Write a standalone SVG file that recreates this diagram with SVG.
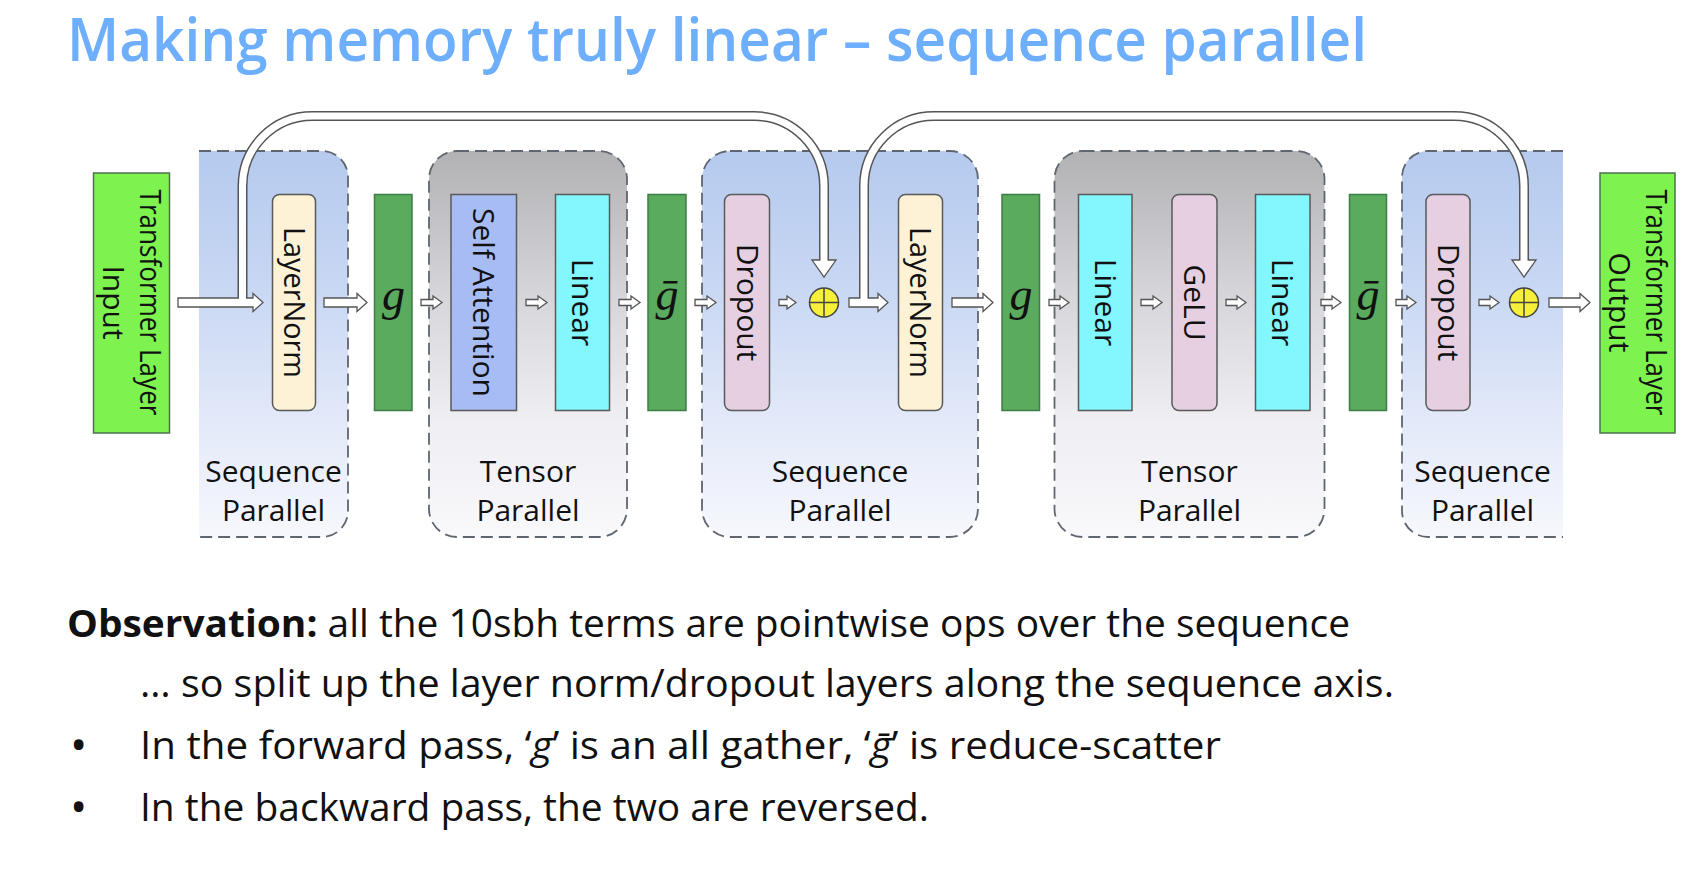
<svg xmlns="http://www.w3.org/2000/svg" width="1694" height="872" viewBox="0 0 1694 872">
<defs>
<linearGradient id="seqG" x1="0" y1="0" x2="0" y2="1">
<stop offset="0" stop-color="#b5caee"/>
<stop offset="0.35" stop-color="#c8d7f3"/>
<stop offset="0.7" stop-color="#e3e9f9"/>
<stop offset="1" stop-color="#f7f8fd"/>
</linearGradient>
<linearGradient id="tenG" x1="0" y1="0" x2="0" y2="1">
<stop offset="0" stop-color="#b2b2b5"/>
<stop offset="0.35" stop-color="#d3d3d8"/>
<stop offset="0.7" stop-color="#eeeef3"/>
<stop offset="1" stop-color="#f9f9fc"/>
</linearGradient>
</defs>
<style>
.bg{fill:#ffffff}
.dash{fill:none;stroke:#5f6670;stroke-width:1.8;stroke-dasharray:12 6}
.box{stroke:#5a5a5a;stroke-width:1.5}
.io{fill:#7ef24f;stroke:#4f6f4f;stroke-width:1.5}
.gb{fill:#5aab5e;stroke:#3f7d46;stroke-width:1.5}
.ln{fill:#fdf1d6}
.sa{fill:#a8bcf4}
.lin{fill:#82f7fd}
.dp{fill:#e6cfe0}
.vl{font-family:"Open Sans","Noto Sans",sans-serif;font-size:30px;fill:#111;text-anchor:middle}
.rl{font-family:"Open Sans","Noto Sans",sans-serif;font-size:30px;fill:#111;text-anchor:middle}
.gt{font-family:"Liberation Serif","DejaVu Serif",serif;font-style:italic;font-size:46px;fill:#111;text-anchor:middle}
.ha{fill:#ffffff;stroke:#555;stroke-width:1.3;stroke-linejoin:miter}
.sko{fill:none;stroke:#555;stroke-width:10}
.ski{fill:none;stroke:#ffffff;stroke-width:7}
.add{fill:#f7f03a;stroke:#444;stroke-width:1.5}
.addx{stroke:#444;stroke-width:1.5}
.title{font-family:"Open Sans","Noto Sans",sans-serif;font-weight:600;font-size:59px;fill:#6daefd}
.body{font-family:"Open Sans","Noto Sans",sans-serif;font-size:38px;fill:#111}
.bul{font-family:"Open Sans","Noto Sans",sans-serif;font-size:46px;fill:#111}
</style>
<rect class="bg" x="0" y="0" width="1694" height="872"/>

<text class="title" x="67" y="61" textLength="1300" lengthAdjust="spacingAndGlyphs">Making memory truly linear – sequence parallel</text>

<g id="region-seq1">
<path d="M199,151 H322 A26,26 0 0 1 348,177 V511 A26,26 0 0 1 322,537 H199 Z" fill="url(#seqG)"/>
<path class="dash" d="M199,151 H322 A26,26 0 0 1 348,177 V511 A26,26 0 0 1 322,537 H199"/>
<text class="rl" x="273.5" y="482">Sequence</text>
<text class="rl" x="273.5" y="521">Parallel</text>
</g>
<g id="region-tensor1">
<rect x="429" y="151" width="198" height="386" rx="28" fill="url(#tenG)"/>
<rect class="dash" x="429" y="151" width="198" height="386" rx="28"/>
<text class="rl" x="528" y="482">Tensor</text>
<text class="rl" x="528" y="521">Parallel</text>
</g>
<g id="region-seq2">
<rect x="702" y="151" width="276" height="386" rx="28" fill="url(#seqG)"/>
<rect class="dash" x="702" y="151" width="276" height="386" rx="28"/>
<text class="rl" x="840" y="482">Sequence</text>
<text class="rl" x="840" y="521">Parallel</text>
</g>
<g id="region-tensor2">
<rect x="1054.5" y="151" width="270" height="386" rx="28" fill="url(#tenG)"/>
<rect class="dash" x="1054.5" y="151" width="270" height="386" rx="28"/>
<text class="rl" x="1189.5" y="482">Tensor</text>
<text class="rl" x="1189.5" y="521">Parallel</text>
</g>
<g id="region-seq3">
<path d="M1563,151 H1428 A26,26 0 0 0 1402,177 V511 A26,26 0 0 0 1428,537 H1563 Z" fill="url(#seqG)"/>
<path class="dash" d="M1563,151 H1428 A26,26 0 0 0 1402,177 V511 A26,26 0 0 0 1428,537 H1563"/>
<text class="rl" x="1482.5" y="482">Sequence</text>
<text class="rl" x="1482.5" y="521">Parallel</text>
</g>

<g id="connectors">
<path class="sko" d="M242.5,302.5 V186 A70,70 0 0 1 312.5,116 H754 A70,70 0 0 1 824,186 V260"/>
<path class="sko" d="M864,302.5 V186 A70,70 0 0 1 934,116 H1454 A70,70 0 0 1 1524,186 V260"/>
<polygon class="ha" points="178,298 253,298 253,293.5 263,302.5 253,311.5 253,307 178,307"/>
<polygon class="ha" points="324,298 357,298 357,293.5 367,302.5 357,311.5 357,307 324,307"/>
<polygon class="ha" points="849,298 878,298 878,293.5 888,302.5 878,311.5 878,307 849,307"/>
<polygon class="ha" points="952,298 983,298 983,293.5 993,302.5 983,311.5 983,307 952,307"/>
<polygon class="ha" points="1549,298 1580,298 1580,293.5 1590,302.5 1580,311.5 1580,307 1549,307"/>
<polygon class="ha" points="421,299.5 433,299.5 433,296 442,302.5 433,309 433,305.5 421,305.5"/>
<polygon class="ha" points="526,299.5 538,299.5 538,296 547,302.5 538,309 538,305.5 526,305.5"/>
<polygon class="ha" points="619,299.5 631,299.5 631,296 640,302.5 631,309 631,305.5 619,305.5"/>
<polygon class="ha" points="695,299.5 707,299.5 707,296 716,302.5 707,309 707,305.5 695,305.5"/>
<polygon class="ha" points="779,299.5 787,299.5 787,296 796,302.5 787,309 787,305.5 779,305.5"/>
<polygon class="ha" points="1049,299.5 1060,299.5 1060,296 1069,302.5 1060,309 1060,305.5 1049,305.5"/>
<polygon class="ha" points="1141,299.5 1153,299.5 1153,296 1162,302.5 1153,309 1153,305.5 1141,305.5"/>
<polygon class="ha" points="1226,299.5 1237,299.5 1237,296 1246,302.5 1237,309 1237,305.5 1226,305.5"/>
<polygon class="ha" points="1321,299.5 1332,299.5 1332,296 1341,302.5 1332,309 1332,305.5 1321,305.5"/>
<polygon class="ha" points="1396,299.5 1407,299.5 1407,296 1416,302.5 1407,309 1407,305.5 1396,305.5"/>
<polygon class="ha" points="1479,299.5 1490,299.5 1490,296 1499,302.5 1490,309 1490,305.5 1479,305.5"/>
<polygon class="ha" points="812,260 836,260 824,277"/>
<polygon class="ha" points="1512,260 1536,260 1524,277"/>
<path class="ski" d="M242.5,302 V186 A70,70 0 0 1 312.5,116 H754 A70,70 0 0 1 824,186 V262"/>
<path class="ski" d="M864,302 V186 A70,70 0 0 1 934,116 H1454 A70,70 0 0 1 1524,186 V262"/>
</g>

<g id="input">
<rect class="io" x="93.5" y="173" width="76" height="260"/>
<text class="vl" transform="translate(131.5,302.5) rotate(90)"><tspan x="0" y="-8" textLength="226" lengthAdjust="spacingAndGlyphs">Transformer Layer</tspan><tspan x="0" y="29">Input</tspan></text>
</g>
<g id="layernorm1">
<rect class="box ln" x="272.5" y="194.5" width="43" height="216" rx="7"/>
<text class="vl" transform="translate(294,302.5) rotate(90)" dy="0.35em" textLength="151" lengthAdjust="spacingAndGlyphs">LayerNorm</text>
</g>
<g id="g1">
<rect class="gb" x="374.5" y="194.5" width="37.5" height="216"/>
<text class="gt" x="393.5" y="310">g</text>
</g>
<g id="self-attention">
<rect class="box sa" x="451" y="194.5" width="65.5" height="216"/>
<text class="vl" transform="translate(483.75,302.5) rotate(90)" dy="0.35em" textLength="189" lengthAdjust="spacingAndGlyphs">Self Attention</text>
</g>
<g id="linear1">
<rect class="box lin" x="555.5" y="194.5" width="54" height="216"/>
<text class="vl" transform="translate(582.5,302.5) rotate(90)" dy="0.35em">Linear</text>
</g>
<g id="gbar1">
<rect class="gb" x="648" y="194.5" width="38" height="216"/>
<text class="gt" x="667" y="310">ḡ</text>
</g>
<g id="dropout1">
<rect class="box dp" x="724.5" y="194.5" width="45" height="216" rx="7"/>
<text class="vl" transform="translate(747,302.5) rotate(90)" dy="0.35em">Dropout</text>
</g>
<g id="add1">
<circle class="add" cx="824" cy="302.5" r="14.5"/>
<line class="addx" x1="809.5" y1="302.5" x2="838.5" y2="302.5"/>
<line class="addx" x1="824" y1="288" x2="824" y2="317"/>
</g>
<g id="layernorm2">
<rect class="box ln" x="898.5" y="194.5" width="44" height="216" rx="7"/>
<text class="vl" transform="translate(920.5,302.5) rotate(90)" dy="0.35em" textLength="151" lengthAdjust="spacingAndGlyphs">LayerNorm</text>
</g>
<g id="g2">
<rect class="gb" x="1002" y="194.5" width="37.5" height="216"/>
<text class="gt" x="1021" y="310">g</text>
</g>
<g id="linear2">
<rect class="box lin" x="1078.5" y="194.5" width="53.5" height="216"/>
<text class="vl" transform="translate(1105.25,302.5) rotate(90)" dy="0.35em">Linear</text>
</g>
<g id="gelu">
<rect class="box dp" x="1172" y="194.5" width="45" height="216" rx="7"/>
<text class="vl" transform="translate(1194.5,302.5) rotate(90)" dy="0.35em">GeLU</text>
</g>
<g id="linear3">
<rect class="box lin" x="1255.5" y="194.5" width="54.5" height="216"/>
<text class="vl" transform="translate(1282.75,302.5) rotate(90)" dy="0.35em">Linear</text>
</g>
<g id="gbar2">
<rect class="gb" x="1349.5" y="194.5" width="37" height="216"/>
<text class="gt" x="1368" y="310">ḡ</text>
</g>
<g id="dropout2">
<rect class="box dp" x="1426" y="194.5" width="44" height="216" rx="7"/>
<text class="vl" transform="translate(1448,302.5) rotate(90)" dy="0.35em">Dropout</text>
</g>
<g id="add2">
<circle class="add" cx="1524" cy="302.5" r="14.5"/>
<line class="addx" x1="1509.5" y1="302.5" x2="1538.5" y2="302.5"/>
<line class="addx" x1="1524" y1="288" x2="1524" y2="317"/>
</g>
<g id="output">
<rect class="io" x="1600" y="173" width="75" height="260"/>
<text class="vl" transform="translate(1637.5,302.5) rotate(90)"><tspan x="0" y="-8" textLength="226" lengthAdjust="spacingAndGlyphs">Transformer Layer</tspan><tspan x="0" y="29">Output</tspan></text>
</g>

<g id="notes">
<text class="body" x="67" y="637" textLength="1283" lengthAdjust="spacingAndGlyphs"><tspan font-weight="700">Observation:</tspan> all the 10sbh terms are pointwise ops over the sequence</text>
<text class="body" x="140" y="697" textLength="1254" lengthAdjust="spacingAndGlyphs">… so split up the layer norm/dropout layers along the sequence axis.</text>
<text class="bul" x="70" y="761">•</text>
<text class="body" x="140" y="759" textLength="1081" lengthAdjust="spacingAndGlyphs">In the forward pass, ‘<tspan font-style="italic">g</tspan>’ is an all gather, ‘<tspan font-style="italic">ḡ</tspan>’ is reduce-scatter</text>
<text class="bul" x="70" y="823">•</text>
<text class="body" x="140" y="821" textLength="789" lengthAdjust="spacingAndGlyphs">In the backward pass, the two are reversed.</text>
</g>
</svg>
